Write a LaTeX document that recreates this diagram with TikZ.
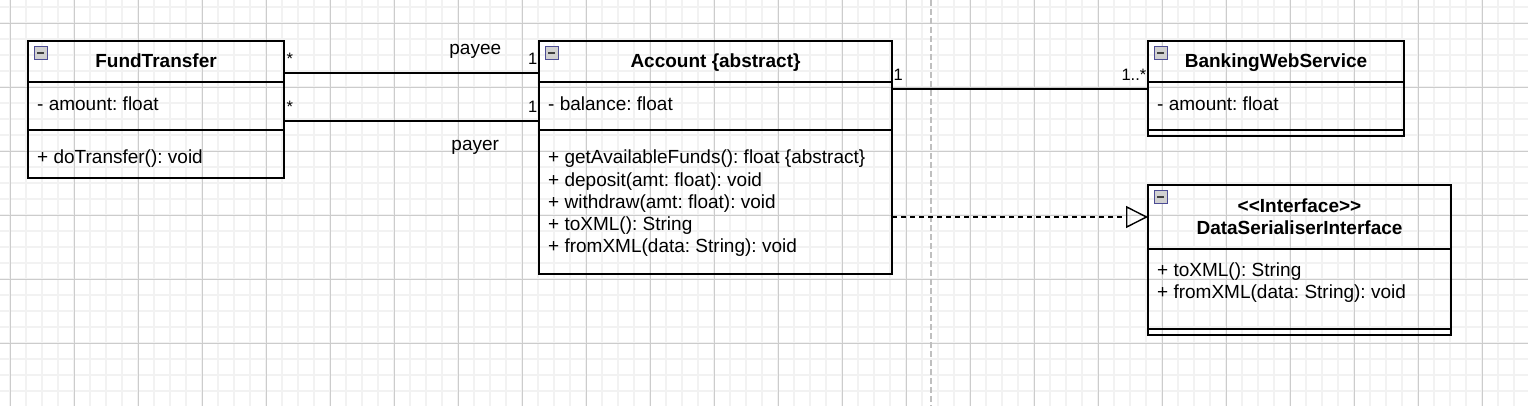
\documentclass[tikz,border=0pt]{standalone}
\usepackage{fontspec}
\setmainfont{Liberation Sans}
\frenchspacing
\usetikzlibrary{positioning}
\usetikzlibrary{arrows.meta}

\tikzset{
  minor/.style={line width=1.5pt, black!5},
  major/.style={line width=0.8pt, black!20},
  pagebreak/.style={line width=2pt, black!25, dash pattern=on 6pt off 3pt},
  part/.style={draw, line width=1.4pt, inner sep=0pt, outer sep=0pt, anchor=north west},
  classname/.style={font=\fontsize{19}{22}\selectfont\bfseries, anchor=base, inner sep=0pt},
  member/.style={font=\fontsize{19}{22}\selectfont, anchor=base west, inner sep=0pt},
  mult/.style={font=\fontsize{16.5}{20}\selectfont, inner sep=0pt, yshift=8pt},
  role/.style={font=\fontsize{19}{22}\selectfont, inner sep=0pt, anchor=base},
  icon/.style={draw=black!30!blue!40!gray, fill=black!18, line width=1pt},
  assoc/.style={line width=1.4pt},
  realize/.style={line width=1.4pt, dash pattern=on 4.5pt off 4.5pt, -{Triangle[open, length=22pt, width=22pt]}},
}

\begin{document}
\begin{tikzpicture}[x=1pt,y=-1pt]
        \useasboundingbox (0,0) rectangle (1528,406);
        \fill[white] (0,0) rectangle (1528,406);
        % grid
        \foreach \x in {10,26,...,1522} \draw[minor] (\x,0) -- (\x,406);
        \foreach \y in {7,23,...,406} \draw[minor] (0,\y) -- (1528,\y);
        \foreach \x in {10,74,...,1528} \draw[major] (\x,0) -- (\x,406);
        \foreach \y in {23,87,...,406} \draw[major] (0,\y) -- (1528,\y);
        \draw[pagebreak] (931,0) -- (931,406);

        \coordinate (F) at (28,41);
        \coordinate (A) at (539,41);
        \coordinate (B) at (1148,41);
        \coordinate (D) at (1148,185);

        \node[part, minimum width=256pt, minimum height=41pt] (FT) at (F) {};
        \node[part, minimum width=256pt, minimum height=48pt, below=0pt of FT] (FTa) {};
        \node[part, minimum width=256pt, minimum height=48pt, below=0pt of FTa] (FTo) {};

        \node[part, minimum width=353pt, minimum height=41pt] (AC) at (A) {};
        \node[part, minimum width=353pt, minimum height=48pt, below=0pt of AC] (ACa) {};
        \node[part, minimum width=353pt, minimum height=144pt, below=0pt of ACa] (ACo) {};

        \node[part, minimum width=256pt, minimum height=41pt] (BW) at (B) {};
        \node[part, minimum width=256pt, minimum height=48pt, below=0pt of BW] (BWa) {};
        \node[part, minimum width=256pt, minimum height=6pt, below=0pt of BWa] (BWo) {};

        \node[part, minimum width=303pt, minimum height=64pt] (DS) at (D) {};
        \node[part, minimum width=303pt, minimum height=80pt, below=0pt of DS] (DSa) {};
        \node[part, minimum width=303pt, minimum height=6pt, below=0pt of DSa] (DSo) {};

        \node[classname] (FTn) at ([yshift=-27pt]FT.north) {FundTransfer};
        \node[member] (FTat) at ([xshift=9pt,yshift=-28.5pt]FTa.north west) {- amount: float};
        \node[member] (FTot) at ([xshift=9pt,yshift=-33.5pt]FTo.north west) {+ doTransfer(): void};

        \node[classname] (ACn) at ([yshift=-27pt]AC.north) {Account \{abstract\}};
        \node[member] (ACat) at ([xshift=9pt,yshift=-28.5pt]ACa.north west) {- balance: float};
        \foreach \t [count=\i from 0] in {+ getAvailableFunds(): float \{abstract\}, + deposit(amt: float): void, + withdraw(amt: float): void, + toXML(): String, + fromXML(data: String): void}
            \node[member] (ACm\i) at ([xshift=9pt,yshift=-34pt-22pt*\i]ACo.north west) {\t};

        \node[classname] (BWn) at ([yshift=-27pt]BW.north) {BankingWebService};
        \node[member] (BWat) at ([xshift=9pt,yshift=-28.5pt]BWa.north west) {- amount: float};

        \node[classname] (DSs) at ([yshift=-27.5pt]DS.north) {<{}<Interface>{}>};
        \node[classname] (DSn) at ([yshift=-49.5pt]DS.north) {DataSerialiserInterface};
        \node[member] (DSm0) at ([xshift=9pt,yshift=-27pt]DSa.north west) {+ toXML(): String};
        \node[member] (DSm1) at ([xshift=9pt,yshift=-49pt]DSa.north west) {+ fromXML(data: String): void};

        \foreach \n in {FT,AC,BW,DS} {
            \draw[icon] ([xshift=6pt,yshift=-6pt]\n.north west) rectangle ++(13,13);
            \draw[line width=2pt, black!75] ([xshift=9pt,yshift=-12.5pt]\n.north west) -- ++(7,0);
        }

        \draw[assoc] ([yshift=-11.5pt]FT.east) -- ([yshift=-11.5pt]AC.west)
            node[mult, pos=0, anchor=base west, xshift=2pt] (m1) {*}
            node[mult, pos=1, anchor=base east, xshift=-1pt] (m2) {1}
            node[role, pos=0.75, yshift=18pt] (payee) {payee};
        \draw[assoc] ([yshift=-15pt]FTa.east) -- ([yshift=-15pt]ACa.west)
            node[mult, pos=0, anchor=base west, xshift=2pt] (m3) {*}
            node[mult, pos=1, anchor=base east, xshift=-1pt] (m4) {1}
            node[role, pos=0.75, yshift=-30pt] (payer) {payer};
        \draw[assoc] ([yshift=17pt]ACa.east) -- ([yshift=17pt]BWa.west)
            node[mult, pos=0, anchor=base west, xshift=1pt] (m5) {1}
            node[mult, pos=1, anchor=base east, xshift=-1pt] (m6) {1..*};
        \draw[realize] ([yshift=-15pt]ACo.east) -- (DS.west);
    \end{tikzpicture}
\end{document}
